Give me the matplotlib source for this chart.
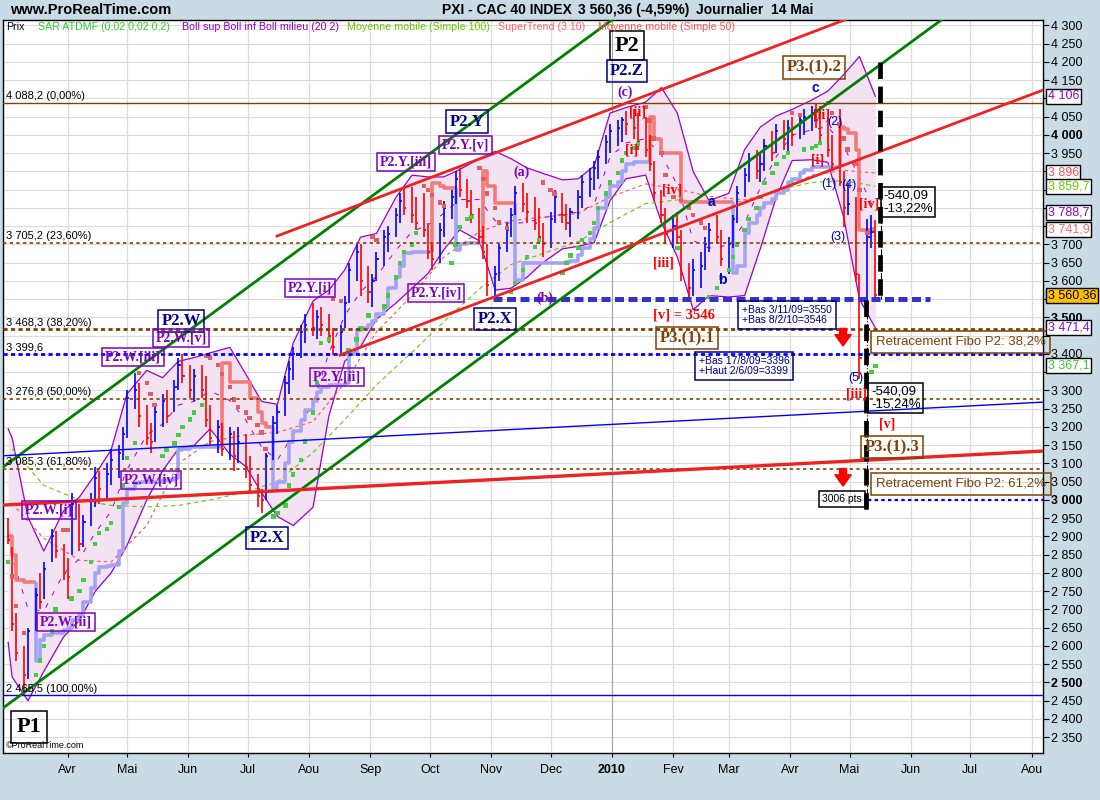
import numpy as np
import pandas as pd
import matplotlib
matplotlib.use("Agg")
import matplotlib.pyplot as plt
import matplotlib.transforms as mtransforms

# ---------------- data ----------------
highs = [2950, 2870, 2690, 2600, 2650, 2760, 2800, 2830, 2920, 2915,
         2880, 2840, 3020, 2990, 2960, 3020, 3090, 3080, 3100, 3140,
         3150, 3200, 3300, 3348, 3320, 3260, 3210, 3260, 3290, 3300,
         3330, 3390, 3399, 3370, 3360, 3370, 3340, 3260, 3220, 3210,
         3200, 3190, 3200, 3180, 3120, 3070, 3030, 3130, 3230, 3260,
         3340, 3380, 3420, 3480, 3510, 3540, 3520, 3530, 3510, 3470,
         3480, 3560, 3650, 3700, 3700, 3640, 3620, 3680, 3740, 3750,
         3800, 3840, 3860, 3858, 3830, 3840, 3760, 3700, 3760, 3820,
         3850, 3900, 3909, 3880, 3850, 3800, 3750, 3700, 3640, 3700,
         3760, 3800, 3860, 3868, 3840, 3830, 3800, 3760, 3790, 3850,
         3840, 3810, 3800, 3850, 3890, 3910, 3930, 3960, 4000, 4030,
         4040, 4050, 4065, 4070, 4060, 4050, 4000, 3930, 3850, 3800,
         3780, 3790, 3740, 3650, 3660, 3680, 3720, 3760, 3780, 3740,
         3720, 3780, 3860, 3910, 3950, 3960, 3950, 3990, 4010, 4030,
         4040, 4040, 4050, 4060, 4070, 4080, 4088, 4080, 4050, 4000,
         4070, 3900, 3868, 3830, 3620, 3770, 3780, 3767]
lows = [2880, 2640, 2560, 2466, 2510, 2640, 2700, 2730, 2830, 2840,
        2780, 2730, 2850, 2860, 2870, 2930, 2980, 2990, 3000, 3040,
        3060, 3110, 3170, 3250, 3200, 3150, 3130, 3160, 3200, 3210,
        3240, 3300, 3320, 3280, 3270, 3280, 3200, 3150, 3130, 3120,
        3110, 3080, 3100, 3060, 3020, 2980, 2964, 3000, 3110, 3180,
        3230, 3290, 3330, 3390, 3430, 3450, 3440, 3450, 3430, 3396,
        3400, 3470, 3540, 3600, 3560, 3540, 3530, 3600, 3640, 3680,
        3720, 3760, 3780, 3760, 3740, 3720, 3660, 3630, 3650, 3720,
        3770, 3810, 3830, 3800, 3760, 3700, 3660, 3560, 3550, 3600,
        3680, 3720, 3780, 3790, 3760, 3740, 3700, 3666, 3690, 3760,
        3760, 3740, 3720, 3770, 3800, 3830, 3850, 3880, 3920, 3950,
        3970, 3980, 4000, 3990, 3960, 3940, 3900, 3820, 3760, 3700,
        3690, 3700, 3600, 3546, 3560, 3580, 3630, 3680, 3700, 3640,
        3620, 3690, 3760, 3830, 3870, 3880, 3870, 3900, 3930, 3950,
        3960, 3950, 3970, 3990, 4000, 4010, 4020, 3980, 3940, 3900,
        3860, 3748, 3780, 3600, 3331, 3520, 3690, 3543]
closes = [2890, 2660, 2580, 2520, 2640, 2740, 2720, 2810, 2900, 2860,
          2800, 2790, 2990, 2880, 2940, 3000, 3060, 3030, 3070, 3110,
          3130, 3180, 3280, 3300, 3230, 3170, 3160, 3240, 3270, 3230,
          3310, 3370, 3340, 3300, 3340, 3300, 3220, 3170, 3200, 3140,
          3180, 3120, 3160, 3090, 3040, 3010, 3000, 3120, 3210, 3240,
          3320, 3360, 3400, 3460, 3480, 3470, 3500, 3480, 3450, 3420,
          3460, 3540, 3630, 3680, 3600, 3570, 3600, 3660, 3720, 3730,
          3780, 3820, 3800, 3780, 3760, 3740, 3680, 3660, 3740, 3800,
          3830, 3880, 3850, 3820, 3780, 3720, 3680, 3590, 3620, 3690,
          3740, 3780, 3840, 3810, 3790, 3760, 3720, 3700, 3770, 3830,
          3780, 3760, 3790, 3830, 3870, 3880, 3910, 3940, 3980, 4010,
          4020, 4040, 4030, 4020, 3980, 3960, 3920, 3840, 3780, 3730,
          3750, 3720, 3620, 3580, 3630, 3640, 3700, 3740, 3720, 3660,
          3700, 3770, 3840, 3890, 3930, 3900, 3920, 3970, 3950, 4010,
          3990, 4020, 4000, 4040, 4050, 4060, 4040, 4000, 3960, 3920,
          3870, 3800, 3810, 3620, 3390, 3720, 3735, 3560.36]
sar = [2830, 2790, 2710, 2636, 2480, 2520, 2560, 2600, 2640, 2700,
       2918, 2918, 2730, 2750, 2780, 2830, 2880, 2910, 2920, 2937,
       2981, 3040, 3115, 3156, 3348, 3320, 3290, 3260, 3120, 3137,
       3155, 3178, 3200, 3220, 3240, 3260, 3395, 3390, 3370, 3345,
       3310, 3275, 3255, 3240, 3225, 3205, 3185, 3140, 2955, 2965,
       2985, 3040, 3070, 3110, 3160, 3240, 3320, 3430, 3440, 3550,
       3545, 3400, 3410, 3440, 3470, 3505, 3720, 3712, 3530, 3560,
       3610, 3650, 3680, 3700, 3731, 3860, 3850, 3835, 3815, 3805,
       3650, 3700, 3748, 3770, 3775, 3909, 3880, 3840, 3800, 3760,
       3745, 3570, 3594, 3630, 3666, 3693, 3712, 3870, 3850, 3840,
       3622, 3650, 3670, 3690, 3712, 3731, 3758, 3800, 3840, 3870,
       3895, 3930, 3950, 3965, 3975, 4077, 4040, 3990, 3950, 3890,
       3830, 3690, 3822, 3800, 3780, 3760, 3745, 3556, 3580, 3610,
       3630, 3665, 3700, 3740, 3770, 3800, 3830, 3868, 3895, 3920,
       3940, 3950, 4060, 4055, 3960, 3965, 3970, 3978, 4088, 4060,
       4030, 3990, 3960, 3920, 3849, 3731, 3351, 3367.1]
supertrend = [2900, 2850, 2780, 2775, 2775, 2560, 2616, 2630, 2636, 2636,
              2645, 2650, 2670, 2685, 2720, 2760, 2800, 2815, 2820, 2822,
              2860, 2992, 3030, 3046, 3050, 3050, 3050, 3050, 3055, 3055,
              3060, 3137, 3140, 3145, 3145, 3145, 3145, 3145, 3145, 3375,
              3323, 3323, 3323, 3323, 3280, 3240, 3211, 3200, 3030, 3050,
              3100, 3160, 3190, 3220, 3247, 3270, 3295, 3310, 3315, 3315,
              3315, 3320, 3400, 3466, 3470, 3480, 3490, 3510, 3530, 3580,
              3610, 3640, 3677, 3680, 3680, 3680, 3680, 3868, 3860, 3855,
              3855, 3685, 3700, 3704, 3704, 3704, 3900, 3860, 3814, 3814,
              3814, 3814, 3603, 3649, 3649, 3649, 3649, 3649, 3649, 3649,
              3649, 3652, 3655, 3670, 3690, 3715, 3745, 3800, 3830, 3860,
              3870, 3900, 3920, 3926, 3926, 3926, 4050, 3990, 3950, 3950,
              3950, 3950, 3817, 3817, 3817, 3817, 3817, 3817, 3817, 3817,
              3817, 3622, 3640, 3731, 3758, 3780, 3800, 3814, 3825, 3840,
              3849, 3870, 3880, 3895, 3905, 3912, 3912, 3912, 3912, 3912,
              4022, 4015, 4005, 3959, 3740, 3740, 3742, 3741.9]
boll_up = [3195, 3170, 2953, 2860, 2970, 3008, 3070, 3137, 3290, 3355, 3335,
           3380, 3390, 3403, 3418, 3345, 3270, 3262, 3430, 3545, 3575,
           3630, 3720, 3730, 3830, 3890, 3885, 3885, 3905, 3935, 3955,
           3935, 3910, 3895, 3877, 3880, 3915, 4060, 4075, 4090, 4130,
           4060, 3900, 3820, 3840, 3960, 4022, 4052, 4070, 4096, 4120,
           4165, 4215, 4106]
boll_lo = [2610, 2515, 2450, 2530, 2625, 2670, 2750, 2800, 2875, 3000, 3080,
           3140, 3150, 3195, 3125, 3092, 3020, 2955, 2930, 2980, 3230,
           3380, 3420, 3495, 3540, 3580, 3620, 3685, 3740, 3710, 3575,
           3580, 3610, 3650, 3688, 3695, 3705, 3820, 3880, 3890, 3760,
           3666, 3521, 3560, 3556, 3560, 3690, 3830, 3930, 3932, 3925,
           3775, 3550, 3471.4]
boll_mid = [2900, 2843, 2702, 2695, 2798, 2839, 2910, 2969, 3083, 3178, 3208,
            3260, 3270, 3299, 3272, 3219, 3145, 3109, 3180, 3263, 3403,
            3505, 3570, 3613, 3685, 3735, 3753, 3785, 3823, 3823, 3765,
            3758, 3760, 3773, 3783, 3788, 3810, 3940, 3978, 3990, 3945,
            3863, 3711, 3690, 3698, 3760, 3856, 3941, 4000, 4014, 4023,
            3970, 3883, 3788.7]
ma100 = [3140, 3040, 3000, 2985, 2981, 2985, 3000, 3022, 3050, 3130, 3220, 3315,
         3405, 3488, 3578, 3645, 3675, 3708, 3760, 3812, 3822, 3818, 3818, 3848,
         3870, 3875, 3859.7]
ma50 = [2990, 2895, 2835, 2830, 2930, 3100, 3160, 3178, 3185, 3215, 3320, 3460,
        3560, 3665, 3735, 3765, 3775, 3785, 3830, 3866, 3852, 3832, 3822, 3845,
        3890, 3903, 3896]

month_starts = ['2009-04-01', '2009-05-01', '2009-06-01', '2009-07-01', '2009-08-01',
                '2009-09-01', '2009-10-01', '2009-11-01', '2009-12-01', '2010-01-01',
                '2010-02-01', '2010-03-01', '2010-04-01', '2010-05-01', '2010-06-01',
                '2010-07-01', '2010-08-01']
month_labels = ['Avr', 'Mai', 'Jun', 'Jul', 'Aou', 'Sep', 'Oct', 'Nov', 'Dec', '2010',
                'Fev', 'Mar', 'Avr', 'Mai', 'Jun', 'Jul', 'Aou']
fib_levels = [4088.2, 3705.2, 3468.3, 3276.8, 3085.3, 2465.5]
fib_texts = ['4 088,2 (0,00%)', '3 705,2 (23,60%)', '3 468,3 (38,20%)',
             '3 276,8 (50,00%)', '3 085,3 (61,80%)', '2 465,5 (100,00%)']
level_3399 = 3399.6
last_values = [4106, 3896, 3859.7, 3788.7, 3741.9, 3560.36, 3471.4, 3367.1]
last_texts = ['4 106', '3 896', '3 859,7', '3 788,7', '3 741,9', '3 560,36', '3 471,4', '3 367,1']

# ---------------- setup ----------------
plt.rcParams['font.family'] = ['Liberation Sans', 'DejaVu Sans']
BASE = pd.Timestamp('2010-01-01')


def D(s):
    return (pd.Timestamp(s) - BASE).days


n = len(closes)
dates = pd.date_range(end='2010-05-14', periods=n, freq='2B')
xs = np.array((dates - BASE).days, dtype=float)
highs = np.array(highs, float); lows = np.array(lows, float)
closes = np.array(closes, float); sar = np.array(sar, float)
supertrend = np.array(supertrend, float)

BG = '#c9dbe5'
PURPLE = '#8000c0'
NAVY = '#000080'
BROWN = '#804000'
RED = '#ff0000'
BLUEL = '#0000cc'

fig = plt.figure(figsize=(11, 8), dpi=100, facecolor=BG)
ax = fig.add_axes([3 / 1100, 47 / 800, 1040 / 1100, 733 / 800])
ax.set_facecolor('white')
XL = (-307.6, 217.7)
ax.set_xlim(*XL)
ax.set_ylim(2306.7, 4315)

# grid
yt = list(range(2350, 4301, 50))
for v in yt:
    ax.axhline(v, color='#dcdcdc', lw=0.8, zorder=0)
mx = [D(m) for m in month_starts]
for m, lab in zip(mx, month_labels):
    ax.axvline(m, color='#a8a8a8' if lab == '2010' else '#dcdcdc', lw=0.9, zorder=0)

# Bollinger
band_idx = [0] + list(range(1, n, 3))
bx = xs[band_idx]
ax.fill_between(bx, boll_lo, boll_up, color='#f2e2f2', zorder=1, lw=0)
ax.plot(bx, boll_up, color='#9900cc', lw=0.9, zorder=2)
ax.plot(bx, boll_lo, color='#9900cc', lw=0.9, zorder=2)
ax.plot(bx, boll_mid, color='#9900cc', lw=0.7, ls=(0, (5, 9)), zorder=2)

# moving averages
ma_idx = list(range(1, n, 6))
ax.plot(xs[ma_idx], ma100, color='#66cc00', lw=0.8, ls=(0, (4, 3)), zorder=2)
ax.plot(xs[ma_idx], ma50, color='#ff5050', lw=0.8, ls=(0, (3, 3)), zorder=2)

# supertrend (salmon above price, light blue below)
bear = supertrend > closes
start = 0
for k in range(1, n + 1):
    if k == n or bear[k] != bear[start]:
        sx = list(xs[start:k]); sy = list(supertrend[start:k])
        if start > 0:
            sx = [xs[start]] + sx; sy = [supertrend[start - 1]] + sy
        if k < n:
            sx = sx + [xs[k]]; sy = sy + [supertrend[k - 1]]
        ax.plot(sx, sy, drawstyle='steps-post', lw=2.6,
                color='#f47a7a' if bear[start] else '#a3a3f5', zorder=3,
                solid_capstyle='butt')
        start = k

# price bars
prev = np.concatenate([[closes[0] + 1], closes[:-1]])
bar_colors = np.where(closes >= prev, '#0000ff', '#ff0000')
ax.vlines(xs, lows, highs, colors=bar_colors, lw=1.2, zorder=4)
ax.hlines(closes, xs, xs + 1.1, colors=bar_colors, lw=1.2, zorder=4)

# SAR
sar_colors = np.where(sar > closes, '#dd6060', '#44cc44')
ax.scatter(xs, sar, marker='s', s=10, c=sar_colors, linewidths=0, zorder=5)

# ---------------- horizontal levels ----------------
for lv, tx in zip(fib_levels, fib_texts):
    if lv == 4088.2:
        ax.axhline(lv, color=BROWN, lw=1.0, zorder=6)
    elif lv == 2465.5:
        ax.axhline(lv, color='#0000ff', lw=1.0, zorder=6)
    elif lv == 3468.3:
        ax.axhline(lv, color=BROWN, lw=2.0, ls=(0, (1.5, 1.2)), zorder=6)
    else:
        ax.axhline(lv, color=BROWN, lw=1.2, ls=(0, (2, 2)), zorder=6)
    ax.text(-306, lv + 4, tx, fontsize=8, color='black', ha='left', va='bottom', zorder=7)
ax.axhline(level_3399, color='#0000ff', lw=2.0, ls=(0, (1.5, 1.2)), zorder=6)
ax.text(-306, level_3399 + 4, '3 399,6', fontsize=8, color='black', ha='left', va='bottom', zorder=7)

# thick blue dashed support 3550
ax.plot([-60.1, 160.6], [3550, 3550], color='#3333cc', lw=3.6, ls=(0, (1.8, 0.9)), zorder=6)
# blue dotted 3000 target
ax.plot([129.3, XL[1]], [3000, 3000], color='#0000ff', lw=1.6, ls=(0, (1.5, 1.5)), zorder=6)


# ---------------- trend lines ----------------
def line_from(p1, p2, x0, x1, **kw):
    s = (p2[1] - p1[1]) / (p2[0] - p1[0])
    ax.plot([x0, x1], [p1[1] + s * (x0 - p1[0]), p1[1] + s * (x1 - p1[0])], **kw)


line_from((-307.6, 3090), (-55.1, 4096), XL[0], 40, color='#008000', lw=2.0, zorder=6)
line_from((-307.6, 2430), (135.4, 4192), XL[0], 200, color='#008000', lw=2.0, zorder=6)
line_from((-169.2, 3723), (-6.1, 4060), -169.2, 150, color='#ee2222', lw=2.0, zorder=6)
line_from((-137.4, 3397), (217.7, 4123), -137.4, XL[1], color='#ee2222', lw=2.0, zorder=6)
line_from((-307.6, 2986), (217.7, 3134), XL[0], XL[1], color='#ee2222', lw=2.4, zorder=6)
line_from((-307.6, 3121), (217.7, 3268), XL[0], XL[1], color='#0000ff', lw=1.0, zorder=6)

# measure verticals
ax.plot([135.4, 135.4], [4200, 3556], color='black', lw=3.4, ls=(0, (3.5, 1.6)), zorder=6)
ax.plot([135.9, 135.9], [3850, 3550], color='black', lw=0.8, ls='-.', zorder=6)
ax.plot([128.3, 128.3], [3548, 2973], color='black', lw=3.4, ls=(0, (3.5, 1.6)), zorder=6)
ax.plot([129.0, 129.0], [3548, 2995], color='black', lw=0.8, ls='-.', zorder=6)

# red arrows
for p0, p1 in [(3470, 3422), (3086, 3038)]:
    ax.annotate('', xy=(116.7, p1), xytext=(116.7, p0),
                arrowprops=dict(arrowstyle='simple,head_width=1.3,head_length=0.9,tail_width=0.55',
                                color='#ff0000', mutation_scale=9, shrinkA=0, shrinkB=0), zorder=7)


# ---------------- labels ----------------
def box(text, d, p, color, size, family='Liberation Serif', weight='bold', ha='center', lw=1.1, pad=0.2):
    ax.text(d, p, text, color=color, fontsize=size, fontweight=weight, family=family,
            ha=ha, va='center', zorder=8, linespacing=1.05,
            bbox=dict(boxstyle=f'square,pad={pad}', fc='none', ec=color, lw=lw))


def lab(text, d, p, color, size, family='Liberation Serif', weight='bold'):
    ax.text(d, p, text, color=color, fontsize=size, fontweight=weight, family=family,
            ha='center', va='center', zorder=8)


box('P1', -294.4, 2378, 'black', 16, pad=0.25)
box('P2', 7.6, 4244, 'black', 16, pad=0.2)
box('P2.Z', 7.6, 4175, NAVY, 12)
lab('(c)', 6.6, 4118, PURPLE, 10)
box('P2.W', -217.7, 3490, NAVY, 12)
box('P2.W.[v]', -217.7, 3444, PURPLE, 10)
box('P2.W.[iii]', -241.9, 3392, PURPLE, 10)
box('P2.W.[i]', -284.3, 2973, PURPLE, 10)
box('P2.W.[ii]', -275.8, 2666, PURPLE, 10)
box('P2.W.[iv]', -232.8, 3055, PURPLE, 10)
box('P2.X', -174.2, 2896, NAVY, 12)
box('P2.Y.[i]', -152.5, 3581, PURPLE, 10)
box('P2.Y.[ii]', -138.9, 3337, PURPLE, 10)
box('P2.Y.[iii]', -104, 3926, PURPLE, 10)
box('P2.Y.[iv]', -88.9, 3567, PURPLE, 10)
box('P2.Y', -73.2, 4036, NAVY, 12)
box('P2.Y.[v]', -74.2, 3973, PURPLE, 10)
box('P2.X', -59.1, 3496, NAVY, 12)
lab('(a)', -45.5, 3899, PURPLE, 10)
lab('(b)', -33.8, 3553, PURPLE, 10)
box('P3.(1).1', 37.9, 3444, BROWN, 12)
lab('[v] = 3546', 36.4, 3507, RED, 10.5)
box('P3.(1).2', 102, 4184, BROWN, 12)
box('P3.(1).3', 141.4, 3145, BROWN, 12)

for t, d, p in [('[i]', 10.1, 3959), ('[ii]', 13.1, 4063), ('[iii]', 25.8, 3649), ('[iv]', 30.3, 3849),
                ('[ii]', 106, 4055), ('[i]', 104, 3932), ('[iv]', 129.8, 3811), ('[iii]', 123.7, 3290),
                ('[v]', 138.9, 3208)]:
    lab(t, d, p, RED, 10)
for t, d, p in [('a', 50, 3816), ('b', 55.6, 3603), ('c', 102.5, 4129)]:
    lab(t, d, p, BLUEL, 10, family='Liberation Sans')
for t, d, p in [('(2)', 112.6, 4036), ('(1)', 109.3, 3866), ('(4)', 119.6, 3863), ('(3)', 114.1, 3721),
                ('(5)', 123.2, 3333)]:
    lab(t, d, p, BLUEL, 9, family='Liberation Sans', weight='normal')

box('Retracement Fibo P2: 38,2%', 133.3, 3433, BROWN, 9.5, family='Liberation Sans', weight='normal',
    ha='left', pad=0.35)
box('Retracement Fibo P2: 61,2%', 133.3, 3044, BROWN, 9.5, family='Liberation Sans', weight='normal',
    ha='left', pad=0.35)
box('-540,09\n-13,22%', 137.0, 3816, 'black', 9.5, family='Liberation Sans', weight='normal', ha='left', pad=0.2)
box('-540,09\n-15,24%', 130.8, 3279, 'black', 9.5, family='Liberation Sans', weight='normal', ha='left', pad=0.2)
box('3006 pts', 116.2, 3003, 'black', 7.5, family='Liberation Sans', weight='normal', pad=0.3)
box('+Bas 3/11/09=3550\n+Bas 8/2/10=3546', 65.7, 3507, NAVY, 7.5, family='Liberation Sans',
    weight='normal', ha='left', pad=0.35)
box('+Bas 17/8/09=3396\n+Haut 2/6/09=3399', 43.9, 3367, NAVY, 7.5, family='Liberation Sans',
    weight='normal', ha='left', pad=0.35)

# legend line
legend_items = [('Prix', 'black', 6), ('SAR ATDMF (0,02 0,02 0,2)', '#33cc33', 38),
                ('Boll sup Boll inf Boll milieu (20 2)', '#9900cc', 182),
                ('Moyenne mobile (Simple 100)', '#66cc00', 347),
                ('SuperTrend (3 10)', '#ff6666', 498), ('Moyenne mobile (Simple 50)', '#ff5555', 598)]
for t, c, xp in legend_items:
    fig.text(xp / 1100, 1 - 27 / 800, t, color=c, fontsize=7.7, ha='left', va='center')

ax.text(0.003, 0.004, '©ProRealTime.com', transform=ax.transAxes, fontsize=6.5, ha='left', va='bottom')

# header
fig.text(10 / 1100, 1 - 10 / 800, 'www.ProRealTime.com', fontsize=10.5, fontweight='bold', va='center')
fig.text(442 / 1100, 1 - 10 / 800, 'PXI - CAC 40 INDEX', fontsize=10, fontweight='bold', va='center')
fig.text(578 / 1100, 1 - 10 / 800, '3 560,36 (-4,59%)', fontsize=10, fontweight='bold', va='center')
fig.text(696 / 1100, 1 - 10 / 800, 'Journalier  14 Mai', fontsize=10, fontweight='bold', va='center')

# right axis (tick labels hidden where a last-value tag sits on top of them)
ax.yaxis.tick_right()
ax.set_yticks(yt)
ylabels = []
for v in yt:
    covered = any(abs(v - lv) < 25 for lv in last_values)
    ylabels.append('' if covered else f'{v // 1000} {v % 1000:03d}')
ax.set_yticklabels(ylabels)
for t, v in zip(ax.get_yticklabels(), yt):
    if v % 500 == 0:
        t.set_fontweight('bold')
ax.tick_params(axis='y', direction='out', length=4, pad=2, labelsize=9)
ax.set_xticks(mx)
ax.set_xticklabels(month_labels)
for t, lab_ in zip(ax.get_xticklabels(), month_labels):
    if lab_ == '2010':
        t.set_fontweight('bold')
ax.tick_params(axis='x', direction='out', length=3, pad=5, labelsize=9)
for s in ax.spines.values():
    s.set_color('black'); s.set_linewidth(1.0)

# last value tags
tag_colors = ['#9900cc', '#ff5050', '#66cc00', '#9900cc', '#ff6666', 'black', '#9900cc', '#33cc33']
trans = mtransforms.blended_transform_factory(ax.transAxes, ax.transData)
for v, t, c in zip(last_values, last_texts, tag_colors):
    fc = '#ffc000' if t == '3 560,36' else 'white'
    ax.text(1.0045, v, t, transform=trans, color=c, fontsize=9, ha='left', va='center', zorder=9,
            clip_on=False, bbox=dict(boxstyle='square,pad=0.12', fc=fc, ec='black', lw=1.0))

fig.savefig('out.png', dpi=100, facecolor=BG)
